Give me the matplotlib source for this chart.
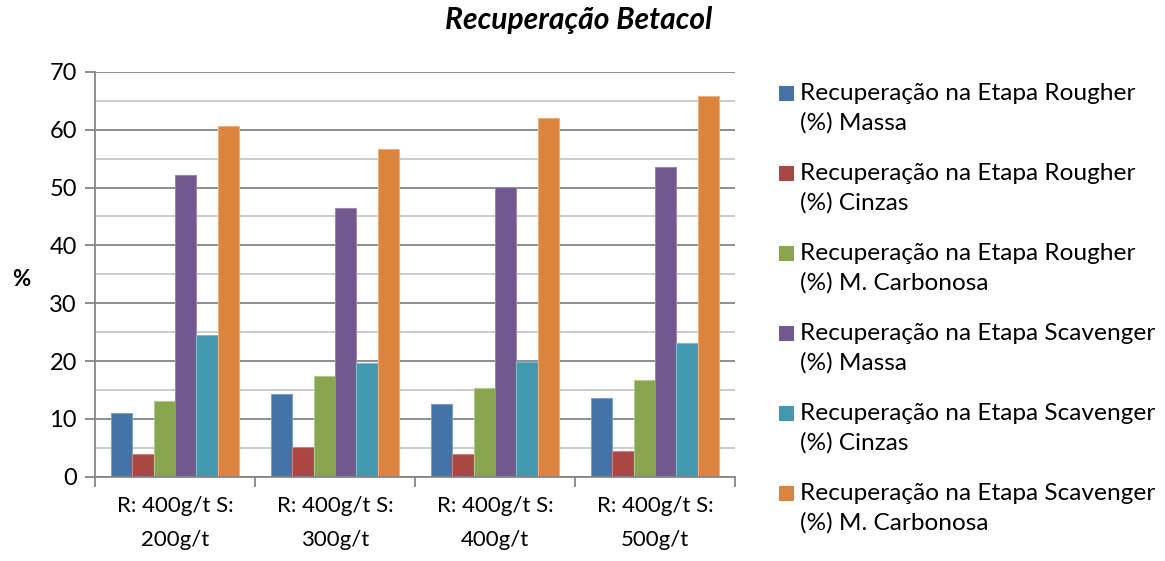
import matplotlib.pyplot as plt
import numpy as np
from matplotlib.patches import Rectangle
from matplotlib.ticker import MultipleLocator

plt.rcParams["font.family"] = ["Lato", "DejaVu Sans"]

categories = ["R: 400g/t S:\n200g/t", "R: 400g/t S:\n300g/t",
              "R: 400g/t S:\n400g/t", "R: 400g/t S:\n500g/t"]
series_names = [
    ("Recuperação na Etapa Rougher", "(%) Massa"),
    ("Recuperação na Etapa Rougher", "(%) Cinzas"),
    ("Recuperação na Etapa Rougher", "(%) M. Carbonosa"),
    ("Recuperação na Etapa Scavenger", "(%) Massa"),
    ("Recuperação na Etapa Scavenger", "(%) Cinzas"),
    ("Recuperação na Etapa Scavenger", "(%) M. Carbonosa"),
]
rougher_massa = [11.0, 14.4, 12.6, 13.6]
rougher_cinzas = [3.9, 5.1, 3.9, 4.4]
rougher_carbonosa = [13.1, 17.5, 15.4, 16.8]
scavenger_massa = [52.2, 46.5, 50.1, 53.5]
scavenger_cinzas = [24.5, 19.7, 19.8, 23.1]
scavenger_carbonosa = [60.7, 56.6, 62.0, 65.8]

values = [rougher_massa, rougher_cinzas, rougher_carbonosa,
          scavenger_massa, scavenger_cinzas, scavenger_carbonosa]
colors = ["#4572A7", "#AA4643", "#89A54E", "#71588F", "#4198AF", "#DB843D"]
edges = ["#7E9DC6", "#C98280", "#B2C88E", "#9A88B3", "#7DBBCB", "#EBAE7D"]

W, H = 1165, 561
fig = plt.figure(figsize=(W / 100, H / 100), dpi=100)
ax = fig.add_axes([0.0815, 0.150, 0.5495, 0.722])

x = np.arange(len(categories))
width = 1 / 7.5
for i, (vals, c, ec) in enumerate(zip(values, colors, edges)):
    ax.bar(x + (i - 2.5) * width, vals, width, color=c, edgecolor=ec,
           linewidth=0.8, zorder=3)

ax.set_xlim(-0.5, len(categories) - 0.5)
ax.set_ylim(0, 70)
ax.yaxis.set_major_locator(MultipleLocator(10))
ax.yaxis.set_minor_locator(MultipleLocator(5))
ax.grid(axis="y", which="major", color="#868686", linewidth=1.3, zorder=0)
ax.grid(axis="y", which="minor", color="#C8C8C8", linewidth=1.3, zorder=0)

ax.set_xticks(x)
ax.set_xticklabels(categories, fontsize=16, linespacing=1.85)
ax.set_xticks(np.arange(-0.5, len(categories)), minor=True)
ax.tick_params(axis="x", which="major", length=0, pad=14)
ax.tick_params(axis="x", which="minor", length=7, width=1.3, color="#868686",
               direction="out")
ax.tick_params(axis="y", which="major", length=7, width=1.3, color="#868686",
               labelsize=17, pad=6)
ax.tick_params(axis="y", which="minor", length=0)

for side in ("top", "right"):
    ax.spines[side].set_visible(False)
for side in ("left", "bottom"):
    ax.spines[side].set_color("#868686")
    ax.spines[side].set_linewidth(1.3)
    ax.spines[side].set_zorder(4)

fig.text(12 / W, 1 - 280 / H, "%", fontsize=16, fontweight="bold", va="center")
fig.text(0.497, 1 - 20 / H, "Recuperação Betacol", fontsize=21.6,
         fontweight="bold", fontstyle="italic", ha="center", va="center")

# legend: square swatch beside the first line of each two-line entry
for i, ((line1, line2), c) in enumerate(zip(series_names, colors)):
    y1 = 93 + 80 * i
    fig.patches.append(Rectangle((779 / W, 1 - (y1 + 7.5) / H), 15 / W, 15 / H,
                                 transform=fig.transFigure, facecolor=c,
                                 edgecolor="none"))
    fig.text(800 / W, 1 - y1 / H, line1, fontsize=17.6, va="center")
    fig.text(800 / W, 1 - (y1 + 30) / H, line2, fontsize=17.6, va="center")

fig.savefig("out.png", dpi=100)
